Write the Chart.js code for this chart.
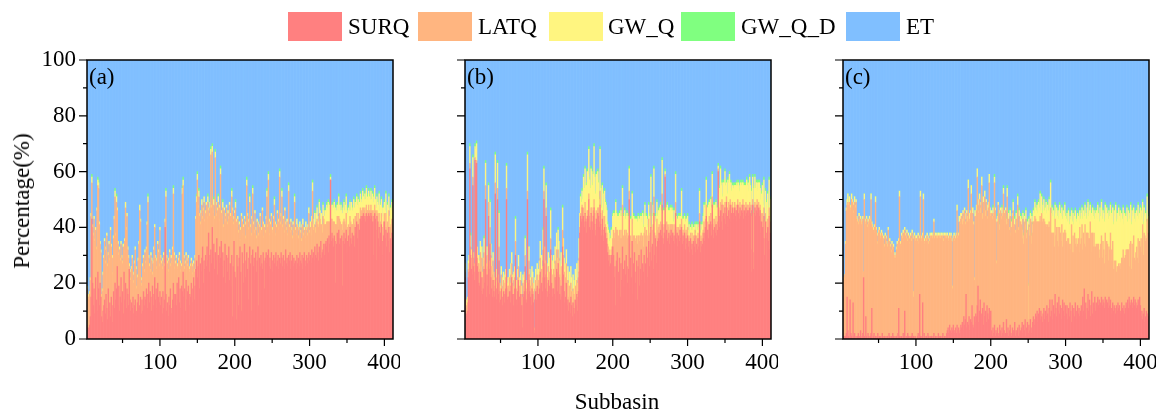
<!DOCTYPE html>
<html>
<head>
<meta charset="utf-8">
<script src="https://cdn.jsdelivr.net/npm/chart.js@4.4.1/dist/chart.umd.min.js"></script>
<style>
  body { margin: 0; background: #fff; width: 1161px; height: 416px; position: relative; overflow: hidden;
         font-family: "Liberation Serif", "Times New Roman", Times, "DejaVu Serif", serif; color: #000; }
  canvas.panel { position: absolute; top: 0; }
  .key { position: absolute; top: 12px; width: 54px; height: 29px; }
  .keytxt { position: absolute; top: 12px; height: 29px; line-height: 29px; font-size: 23px; white-space: nowrap; }
  .tag { position: absolute; top: 65px; font-size: 23px; line-height: 23px; }
  #ytitle { position: absolute; left: 22px; top: 201px; transform: translate(-50%, -50%) rotate(-90deg);
            font-size: 23px; white-space: nowrap; }
  #xtitle { position: absolute; left: 617px; top: 390px; transform: translateX(-50%); font-size: 23px; line-height: 23px; }
</style>
</head>
<body>
<canvas id="chartA" class="panel" style="left:0px" width="400" height="400"></canvas>
<canvas id="chartB" class="panel" style="left:378px" width="400" height="400"></canvas>
<canvas id="chartC" class="panel" style="left:756px" width="400" height="400"></canvas>

<div class="key" style="left:288px;background:#FF8080"></div><div class="keytxt" style="left:348px">SURQ</div>
<div class="key" style="left:418px;background:#FFB580"></div><div class="keytxt" style="left:478px">LATQ</div>
<div class="key" style="left:549px;background:#FFF580"></div><div class="keytxt" style="left:608px">GW_Q</div>
<div class="key" style="left:681px;background:#80FF80"></div><div class="keytxt" style="left:741px">GW_Q_D</div>
<div class="key" style="left:846px;background:#80BFFF"></div><div class="keytxt" style="left:906px">ET</div>

<div class="tag" style="left:89px">(a)</div>
<div class="tag" style="left:467px">(b)</div>
<div class="tag" style="left:845px">(c)</div>
<div id="ytitle">Percentage(%)</div>
<div id="xtitle">Subbasin</div>

<script>
// subbasins 1..411, percentages of each water balance term
const subbasins = Array.from({ length: 411 }, (_, i) => i + 1);
const xTickLabels = [100, 200, 300, 400];
const yTickLabels = [0, 20, 40, 60, 80, 100];
const seriesNames = ['SURQ', 'LATQ', 'GW_Q', 'GW_Q_D', 'ET'];
const seriesColors = ['#FF8080', '#FFB580', '#FFF580', '#80FF80', '#80BFFF'];

// ---- panel (a)
const surqA = [
4,5,4,3,4,5,8,15,43,20,12,18,9,22,14,10,24,18,12,20,
15,8,6,10,12,14,9,16,11,7,18,10,13,8,15,12,6,17,11,20,
14,18,26,12,19,10,15,22,13,17,9,24,14,20,11,18,16,12,25,14,
10,13,11,15,9,12,14,8,10,13,16,11,12,15,9,14,10,17,12,15,
14,18,11,16,20,13,17,15,10,19,12,16,22,14,18,11,20,15,13,17,
12,15,9,17,11,14,40,16,10,13,8,15,12,18,9,11,14,20,16,12,
16,12,20,14,22,13,18,11,19,17,24,15,18,10,21,14,17,19,12,16,
15,20,13,18,22,14,19,25,28,22,26,30,18,27,24,29,33,20,28,25,
30,26,33,28,38,24,30,32,27,40,29,34,25,31,28,36,23,30,27,33,
29,35,26,31,22,28,34,20,30,24,29,33,21,27,19,30,8,26,35,24,
22,7,30,26,12,29,33,24,10,31,27,20,34,22,28,31,25,14,29,33,
27,10,30,32,26,29,21,31,24,28,33,12,29,26,30,27,25,31,28,18,
29,31,27,30,32,26,29,25,31,28,24,30,27,29,31,26,28,30,25,29,
27,31,29,26,30,28,25,32,27,29,26,30,28,31,25,28,30,26,29,27,
28,25,30,27,29,26,31,28,27,30,25,29,31,28,26,30,27,29,31,28,
30,27,32,29,31,28,33,30,29,34,31,28,33,30,35,29,31,32,34,30,
34,35,33,36,31,37,34,57,35,38,36,33,37,35,20,34,38,36,39,34,
36,33,37,19,35,38,34,36,39,31,35,37,33,40,36,34,38,35,37,33,
40,38,42,36,41,27,39,43,44,42,44,45,43,44,42,45,44,43,45,44,
43,45,44,42,30,44,45,43,28,44,42,36,40,33,38,41,35,30,37,42,
36,39,33,38,35,40,31,36,34,38,36];
const latqA = [
13,12,14,12,10,11,13,29,13,20,25,25,26,17,18,36,31,36,29,14,
16,7,11,13,17,21,18,16,26,19,12,24,15,31,18,11,23,19,32,31,
23,31,20,22,11,22,13,12,16,10,24,7,21,27,28,26,16,17,1,10,
11,12,18,8,11,15,18,17,8,9,12,23,34,27,10,7,16,12,12,16,
13,14,30,33,9,13,7,15,18,4,15,16,18,15,7,17,14,16,13,22,
17,12,16,11,19,12,2,35,19,14,16,13,19,8,20,16,18,32,14,13,
11,17,6,11,6,17,9,13,7,35,31,14,7,17,9,14,9,10,13,8,
11,8,10,8,5,10,10,18,21,35,21,21,26,14,21,19,10,26,21,17,
15,22,10,21,8,20,17,34,20,27,16,14,18,34,20,8,23,19,15,14,
30,10,17,16,18,18,10,22,17,17,16,10,27,17,23,21,38,15,8,21,
25,35,10,17,26,12,2,15,34,11,10,20,9,14,13,24,19,25,13,16,
13,27,13,20,15,9,24,8,12,14,8,25,11,18,8,12,21,10,8,22,
9,12,24,10,25,16,8,16,13,11,14,13,21,12,6,14,17,12,14,29,
14,13,22,14,13,10,21,9,12,13,11,23,12,7,17,11,6,15,9,22,
11,12,11,13,7,13,9,10,8,10,16,8,8,8,14,9,10,11,14,10,
10,10,10,24,8,12,8,8,13,9,10,12,12,13,6,12,7,12,9,11,
7,6,9,6,11,5,8,0,8,5,6,9,5,6,21,7,6,4,5,9,
6,8,4,20,7,5,8,5,6,7,5,4,6,4,6,7,3,6,6,8,
4,6,3,5,4,12,4,4,2,3,3,2,3,3,3,3,2,3,3,2,
3,3,2,4,12,2,3,3,11,2,3,6,5,8,4,4,5,8,5,3,
4,6,7,4,5,6,7,4,7,5,6];
const gwqA = [
1,1,1,1,1,1,1,1,2,1,1,1,1,1,1,1,2,2,1,1,
1,1,1,1,1,1,1,1,1,1,1,1,1,1,1,1,1,1,1,2,
1,2,1,1,1,1,1,1,1,1,1,1,1,2,1,1,1,1,1,1,
1,1,1,1,1,1,1,1,1,1,1,1,2,1,1,1,1,1,1,1,
1,1,1,2,1,1,1,1,1,1,1,1,1,1,1,1,1,1,1,1,
1,1,1,1,1,1,1,2,1,1,1,1,1,1,1,1,1,2,1,1,
1,1,1,1,1,1,1,1,1,2,2,1,1,1,1,1,1,1,1,1,
1,1,1,1,1,1,1,1,2,2,1,2,1,1,1,2,1,1,2,1,
1,1,1,2,1,1,2,2,1,2,1,2,1,2,1,1,1,2,1,1,
2,1,1,2,1,1,1,1,1,1,1,1,1,1,1,2,1,1,1,1,
2,1,1,1,1,1,1,1,1,1,1,1,1,1,1,2,1,1,1,2,
1,1,1,2,1,1,1,1,1,1,1,1,1,1,1,1,1,1,1,1,
1,1,2,1,2,1,1,1,1,1,1,1,2,1,1,1,1,1,1,2,
1,1,2,1,1,1,1,1,1,1,1,2,1,1,1,1,1,1,1,2,
1,1,2,1,1,1,2,1,1,1,2,1,1,1,2,1,1,1,2,1,
2,3,2,3,2,3,4,2,3,4,3,2,4,3,2,4,3,4,3,3,
5,4,6,5,7,4,6,1,5,3,6,5,7,4,6,5,4,6,7,5,
4,7,5,6,5,6,4,7,6,8,5,6,7,5,4,8,5,6,7,6,
5,4,6,7,5,8,6,5,3,5,6,4,4,5,5,6,5,4,5,5,
4,5,4,6,7,5,6,4,8,5,4,6,7,5,6,5,7,6,5,4,
6,7,5,6,7,5,6,7,5,6,5];
const gwqdA = [
0,0,0,0,0,0,0,0,1,0,0,0,0,0,0,0,1,1,0,0,
0,0,0,0,0,0,0,0,0,0,0,0,0,0,0,0,0,0,0,1,
0,1,0,0,0,0,0,0,0,0,0,0,0,0,0,0,0,0,0,0,
0,0,0,0,0,0,0,0,0,0,0,0,0,0,0,0,0,0,0,0,
0,0,0,1,0,0,0,0,0,0,0,0,0,0,0,0,0,0,0,0,
0,0,0,0,0,0,0,1,0,0,0,0,0,0,0,0,0,1,0,0,
0,0,0,0,0,0,0,0,0,1,1,0,0,0,0,0,0,0,0,0,
0,0,0,0,0,0,0,0,1,1,0,1,0,0,0,0,0,0,0,0,
0,0,0,1,0,0,1,1,0,1,0,1,0,1,0,0,0,1,0,0,
1,0,0,1,0,0,0,0,0,0,0,0,0,0,0,1,0,0,0,0,
1,0,0,0,0,0,0,0,0,0,0,0,0,0,0,1,0,0,0,1,
0,0,0,1,0,0,0,0,0,0,0,0,0,0,0,0,0,0,0,0,
0,0,1,0,1,0,0,0,0,0,0,0,1,0,0,0,0,0,0,1,
0,0,1,0,0,0,0,0,0,0,0,1,0,0,0,0,0,0,0,1,
0,0,0,0,0,0,0,0,0,0,0,0,0,0,0,0,0,0,0,0,
0,0,0,1,0,0,1,0,0,1,0,0,1,1,0,0,0,1,0,0,
1,0,1,1,1,0,1,1,0,0,1,0,1,0,1,0,1,1,1,0,
0,1,1,0,1,1,0,1,1,1,0,1,0,1,1,0,0,1,1,0,
1,0,1,1,1,0,1,1,0,1,1,1,0,1,1,1,1,0,1,1,
0,1,1,1,0,1,1,0,0,1,1,0,1,0,1,1,0,0,1,1,
0,1,0,1,0,1,0,1,0,1,0];

// ---- panel (b)
const surqB = [
20,21,22,8,9,10,22,24,61,30,25,23,55,26,21,64,62,63,26,24,
20,19,24,17,22,16,18,25,20,50,15,23,19,44,16,34,22,18,15,21,
17,15,52,18,14,50,16,28,13,14,18,15,12,17,13,16,18,50,14,15,
15,17,13,19,22,16,12,16,18,30,14,12,17,21,15,13,16,12,4,16,
15,17,26,14,13,50,16,23,17,15,12,18,16,13,2,14,17,14,19,16,
16,18,24,14,20,17,28,50,22,18,44,17,15,21,19,16,32,20,15,18,
18,16,22,14,25,17,27,22,16,14,19,15,33,23,17,13,15,20,12,14,
10,13,9,15,12,8,13,11,9,14,12,16,10,17,24,38,44,42,47,43,
44,40,45,42,38,44,43,50,40,39,45,42,39,44,47,41,37,43,40,45,
44,40,48,41,37,43,39,35,40,38,34,36,31,28,30,26,27,30,29,33,
30,22,26,12,28,31,18,24,29,15,27,21,33,25,19,28,23,30,26,20,
25,50,18,29,22,35,16,27,31,20,24,28,14,26,30,19,25,32,21,27,
24,30,20,27,33,22,29,35,26,31,40,28,34,25,45,30,36,27,33,35,
36,38,35,39,37,48,36,34,38,58,37,39,35,36,38,34,37,39,36,38,
35,37,34,45,36,38,33,37,35,39,36,40,34,37,35,38,32,36,34,37,
33,35,31,36,32,34,30,35,33,37,31,34,32,36,33,42,31,35,33,34,
36,38,35,40,44,37,39,36,41,38,42,37,48,39,36,40,38,41,37,39,
60,44,40,46,42,48,39,45,43,47,41,49,44,40,46,43,48,42,45,47,
45,43,47,44,46,42,48,45,43,47,44,46,45,48,43,46,44,47,45,46,
46,44,47,45,24,46,48,25,45,47,44,46,48,45,47,44,46,38,42,40,
36,44,30,42,38,28,40,35,44,32,38];
const latqB = [
3,2,2,3,3,3,3,3,2,3,4,3,3,3,3,1,1,1,3,3,
7,6,7,7,7,6,8,6,8,5,10,7,7,5,9,6,8,8,8,7,
4,4,4,4,4,4,4,5,4,3,5,4,3,4,4,4,4,4,4,4,
4,5,4,4,5,4,4,5,4,5,4,4,5,5,4,4,5,4,8,4,
4,4,4,4,4,3,4,5,4,4,4,4,4,4,1,4,4,4,4,4,
5,5,5,5,5,5,4,3,5,5,3,5,5,5,5,6,4,5,5,5,
7,7,6,7,7,7,5,7,7,7,7,7,6,7,7,7,7,7,7,7,
5,6,5,5,5,5,5,5,5,5,5,5,5,5,5,2,1,1,1,1,
3,2,4,1,5,2,3,2,4,3,2,5,3,2,3,4,2,3,5,2,
3,2,5,4,2,3,5,2,4,3,6,2,3,5,2,4,3,2,4,3,
9,14,12,28,11,8,17,13,10,21,12,15,15,12,17,11,14,9,12,16,
12,3,16,8,13,8,18,10,6,15,12,9,20,11,7,16,12,6,14,10,
9,8,20,10,6,10,8,8,11,7,9,5,5,16,6,8,1,10,10,4,
4,3,5,3,4,4,5,6,3,1,4,3,6,4,3,5,4,2,5,3,
3,4,5,4,3,2,5,3,4,2,4,3,4,2,3,3,5,3,4,3,
3,2,4,2,3,4,5,2,3,2,4,3,4,2,3,3,4,2,3,4,
3,4,5,3,4,4,3,5,3,4,3,4,3,4,5,3,4,3,4,3,
1,3,4,3,4,2,5,3,4,2,4,2,3,5,3,4,2,4,3,2,
2,3,2,3,2,4,2,3,3,2,3,2,3,2,3,2,3,2,3,2,
2,3,2,3,8,2,2,6,3,2,3,2,2,3,2,3,2,4,3,5,
4,3,6,3,4,8,3,5,3,6,4];
const gwqB = [
3,3,3,2,2,2,3,3,6,4,3,3,7,2,3,4,5,6,4,3,
3,3,4,2,4,2,3,5,3,8,2,3,4,6,3,9,4,3,3,3,
3,3,10,3,3,9,3,12,3,2,3,3,3,3,4,3,3,8,2,3,
3,3,3,4,4,3,3,3,4,8,3,2,3,4,3,3,3,3,3,3,
3,3,6,3,3,13,3,5,4,3,3,4,4,3,1,4,4,3,4,3,
4,5,6,3,5,4,7,8,6,5,8,5,4,5,5,4,10,5,5,5,
5,4,5,4,6,5,7,6,5,5,5,5,8,6,5,5,5,5,5,5,
5,5,4,6,5,4,5,5,5,6,5,6,5,6,7,5,6,6,5,6,
11,12,12,12,12,14,13,16,13,12,14,13,13,13,19,13,13,13,13,13,
9,8,15,9,8,9,8,8,9,8,8,8,7,6,6,5,6,7,6,8,
6,8,7,9,6,5,8,7,6,8,7,8,6,7,8,7,6,5,7,8,
7,8,8,6,8,9,7,7,6,8,7,6,8,7,6,8,7,6,7,8,
7,6,8,7,5,8,6,5,7,6,9,7,5,7,10,6,5,7,6,5,
6,5,7,6,5,12,4,6,5,1,6,5,7,6,5,7,6,5,6,5,
4,5,4,10,5,3,5,4,5,3,4,10,5,4,5,3,5,4,5,4,
3,4,3,2,4,3,4,3,4,2,3,4,3,3,4,8,3,4,3,3,
5,6,7,5,9,6,5,7,5,6,5,6,8,5,6,5,6,5,6,5,
1,5,10,12,9,6,7,8,9,11,10,5,5,12,7,12,6,10,5,6,
7,9,6,8,7,10,5,8,7,6,9,7,8,6,9,7,8,6,9,7,
8,6,9,7,12,5,8,14,6,9,7,8,6,5,7,9,6,8,7,10,
8,10,6,8,7,6,9,7,10,6,8];
const gwqdB = [
0,0,0,0,0,0,0,0,1,1,0,0,1,0,0,1,1,1,0,0,
0,0,0,0,0,0,0,1,0,1,0,0,0,1,0,1,0,0,0,0,
0,0,1,0,0,1,0,1,0,0,0,0,0,0,0,0,0,1,0,0,
0,0,0,0,0,0,0,0,0,1,0,0,0,0,0,0,0,0,0,0,
0,0,1,0,0,1,0,0,0,0,0,0,0,0,0,0,0,0,0,0,
0,0,0,0,0,0,1,1,0,0,1,0,0,0,0,0,1,0,0,0,
0,0,0,0,0,0,1,0,0,0,0,0,1,0,0,0,0,0,0,0,
0,0,0,0,0,0,0,0,0,0,0,0,0,0,0,0,1,1,1,1,
1,1,1,1,1,1,1,1,1,1,1,1,1,1,1,1,1,1,1,1,
1,1,1,1,1,1,1,1,1,1,1,1,1,1,1,1,1,1,1,1,
1,1,1,1,1,1,1,1,1,1,1,1,1,1,1,1,1,1,1,1,
1,1,1,1,1,1,1,1,1,1,1,1,1,1,1,1,1,1,1,1,
1,1,1,1,1,1,1,1,1,1,1,1,1,1,1,1,1,1,1,1,
1,1,1,1,1,1,1,1,1,1,1,1,1,1,1,1,1,1,1,1,
1,1,1,1,1,1,1,1,1,1,1,1,1,1,1,1,1,1,1,1,
1,1,1,1,1,1,1,1,1,1,1,1,1,1,1,1,1,1,1,1,
1,1,1,1,1,1,1,1,1,1,1,1,1,1,1,1,1,1,1,1,
1,1,1,1,1,1,1,1,1,1,1,1,1,1,1,1,1,1,1,1,
1,1,1,1,1,1,1,1,1,1,1,1,1,1,1,1,1,1,1,1,
1,1,1,1,1,1,1,1,1,1,1,1,1,1,1,1,1,1,1,1,
1,1,1,1,1,1,1,1,1,1,1];

// ---- panel (c)
const surqC = [
1,2,0,1,0,1,2,15,3,1,0,14,2,1,0,13,1,2,0,1,
0,1,2,0,1,3,0,1,2,22,1,0,8,1,0,2,1,0,1,2,
11,0,1,2,0,1,0,1,2,0,1,0,1,0,2,1,0,1,0,1,
0,1,0,2,1,0,1,0,2,1,0,1,0,1,0,2,11,1,0,1,
1,0,2,1,10,0,1,0,2,1,0,1,0,1,2,0,1,0,1,0,
0,1,2,0,16,1,0,1,13,0,2,1,0,1,0,2,1,0,1,0,
1,0,1,2,0,1,0,1,0,2,1,0,1,0,1,2,0,1,0,1,
2,3,4,2,5,3,2,4,3,5,2,3,4,2,5,3,4,2,3,5,
4,6,3,8,5,7,16,4,6,5,8,3,7,6,12,5,4,8,6,9,
8,12,19,6,10,14,7,9,11,5,13,8,10,6,12,9,7,11,8,10,
3,1,4,2,5,1,3,2,4,1,2,5,3,1,4,2,6,3,1,2,
7,2,4,1,3,5,2,1,4,3,2,6,1,3,2,4,1,5,2,3,
4,6,2,5,3,7,1,4,6,2,5,3,7,4,2,6,8,5,7,9,
8,10,6,9,11,7,10,8,6,9,11,7,10,8,12,9,6,11,14,8,
10,14,7,12,9,16,11,8,13,10,15,9,12,7,11,14,10,13,8,12,
9,12,7,11,8,13,10,6,12,9,11,8,13,7,10,12,9,11,8,10,
12,8,15,10,18,9,13,7,11,16,10,14,8,12,17,9,13,11,15,10,
13,11,15,12,14,11,13,15,12,14,13,11,15,12,14,13,11,15,12,14,
11,9,13,10,12,11,9,12,10,13,11,12,10,9,13,11,10,12,9,11,
13,12,14,11,15,13,12,14,11,13,15,12,14,13,11,12,14,13,15,12,
8,10,7,9,11,6,8,10,9,7,8];
const latqC = [
28,26,22,20,23,33,44,33,46,47,49,32,45,49,49,35,44,47,47,48,
43,41,39,44,41,40,41,41,41,2,49,42,33,42,40,40,40,43,41,48,
30,40,38,36,40,48,39,36,32,38,38,37,35,38,35,34,36,32,37,35,
34,32,39,30,34,33,30,34,30,32,29,29,29,31,34,31,24,50,34,32,
36,36,36,34,29,37,35,38,33,36,36,33,37,34,36,36,14,37,34,36,
36,34,35,34,20,50,35,35,24,50,33,33,36,34,37,34,33,35,36,36,
36,36,36,40,36,36,36,36,36,35,35,37,35,37,35,35,35,36,36,36,
34,34,32,33,32,33,35,31,15,31,35,32,32,35,41,33,33,40,38,38,
40,35,42,34,41,34,27,41,36,49,34,40,38,46,31,40,37,13,38,35,
38,46,29,39,40,31,41,46,32,44,33,43,34,43,34,34,40,45,37,34,
42,42,41,42,51,45,39,25,38,47,43,34,43,42,41,42,46,42,41,44,
34,49,37,42,36,39,35,39,40,43,38,35,37,40,39,44,38,39,40,39,
37,30,41,29,39,32,42,32,33,5,36,34,36,30,40,32,34,37,37,34,
34,32,36,33,31,37,32,37,36,34,32,35,31,33,28,32,34,31,26,39,
28,24,31,26,24,27,26,32,22,30,18,31,26,28,30,19,28,25,31,26,
26,22,29,25,26,19,24,35,19,28,20,30,21,29,23,22,27,20,32,24,
24,33,17,28,16,32,20,31,27,22,26,22,34,19,21,29,20,27,18,23,
21,22,19,22,15,21,21,22,17,21,19,16,23,18,21,21,17,18,20,24,
21,19,22,15,16,14,19,12,16,13,16,14,17,16,16,18,22,16,20,19,
19,20,18,21,11,21,23,11,23,16,22,17,14,18,22,17,22,14,20,21,
28,21,34,21,27,31,27,26,34,31,30];
const gwqC = [
1,1,0,1,0,1,1,2,3,1,2,1,1,2,1,1,1,2,1,1,
1,1,1,1,1,1,1,1,1,0,2,1,1,1,1,1,1,1,1,2,
1,1,1,1,1,2,1,1,1,1,1,1,1,1,1,1,1,1,1,1,
1,1,1,1,1,1,1,1,1,1,1,1,1,1,1,1,1,2,1,1,
1,1,1,1,1,1,1,1,1,1,1,1,1,1,1,1,2,1,1,1,
1,1,1,1,1,2,1,1,1,2,1,1,1,1,1,1,1,1,1,1,
1,1,1,1,1,1,1,1,1,1,1,1,1,1,1,1,1,1,1,1,
1,1,1,1,1,1,1,1,1,1,1,1,1,1,2,1,1,2,1,2,
1,2,1,2,1,1,2,1,2,3,1,2,1,3,1,2,1,1,2,1,
2,3,2,1,2,2,1,3,2,2,1,2,2,1,2,1,2,3,2,1,
1,1,2,1,2,1,1,1,2,1,1,2,1,1,2,1,2,1,1,1,
2,3,1,2,1,2,1,2,1,3,1,2,1,2,1,3,1,2,1,2,
2,3,2,3,2,2,3,2,3,12,2,3,2,3,2,3,4,3,5,4,
4,6,3,7,5,8,4,6,3,5,7,4,6,8,5,7,6,8,7,9,
7,9,6,8,10,5,8,7,9,6,10,8,7,9,6,10,8,7,9,6,
8,11,6,10,7,12,9,5,11,8,10,6,12,7,9,11,8,10,6,9,
9,6,11,8,10,7,12,5,9,11,8,10,6,12,7,9,11,8,10,12,
12,10,14,11,13,15,10,12,14,11,13,15,10,14,12,11,15,13,12,10,
13,15,12,16,18,19,20,18,19,17,20,18,19,17,16,14,15,13,16,14,
12,15,10,14,17,11,13,16,12,15,10,14,17,11,13,15,12,16,10,14,
10,12,8,11,9,7,10,6,8,5,6];
const gwqdC = [
0,0,0,0,0,0,0,0,0,0,0,0,0,0,0,0,0,0,0,0,
0,0,0,0,0,0,0,0,0,0,0,0,0,0,0,0,0,0,0,0,
0,0,0,0,0,0,0,0,0,0,0,0,0,0,0,0,0,0,0,0,
0,0,0,0,0,0,0,0,0,0,0,0,0,0,0,0,0,0,0,0,
0,0,0,0,0,0,0,0,0,0,0,0,0,0,0,0,0,0,0,0,
0,0,0,0,0,0,0,0,0,0,0,0,0,0,0,0,0,0,0,0,
0,0,0,0,0,0,0,0,0,0,0,0,0,0,0,0,0,0,0,0,
0,0,0,0,0,0,0,0,0,0,0,0,0,0,0,0,0,0,0,0,
0,0,0,0,0,0,0,0,0,0,0,0,0,0,0,0,0,0,0,0,
0,0,0,0,0,0,0,0,0,0,0,0,0,0,0,0,0,0,0,0,
0,0,1,0,1,0,0,0,1,0,0,1,0,0,1,0,1,0,0,0,
1,1,0,1,0,1,0,1,0,1,0,1,0,1,0,1,0,1,0,1,
1,1,1,1,1,1,1,1,1,1,1,1,1,1,1,1,1,1,1,1,
1,1,1,1,1,1,1,1,1,1,1,1,1,1,1,1,1,1,1,1,
1,1,1,1,1,1,1,1,1,1,1,1,1,1,1,1,1,1,1,1,
1,1,1,1,1,1,1,1,1,1,1,1,1,1,1,1,1,1,1,1,
1,1,1,1,1,1,1,1,1,1,1,1,1,1,1,1,1,1,1,1,
1,1,1,1,1,1,1,1,1,1,1,1,1,1,1,1,1,1,1,1,
1,1,1,1,1,1,1,1,1,1,1,1,1,1,1,1,1,1,1,1,
1,1,1,1,1,1,1,1,1,1,1,1,1,1,1,1,1,1,1,1,
1,1,1,1,1,1,1,1,1,1,1];

const FONT = '"Liberation Serif", "Times New Roman", Times, "DejaVu Serif", serif';
Chart.defaults.font.family = FONT;
Chart.defaults.font.size = 23;
Chart.defaults.color = '#000';

// ET closes the balance to 100 %
function remainder(s, l, g, d) {
  return s.map((v, i) => 100 - v - (l[i] || 0) - (g[i] || 0) - (d[i] || 0));
}

// frame around the plot area, major/minor tick marks and the x tick labels
const frameTicks = {
  id: 'frameTicks',
  afterDraw(chart) {
    const { ctx, chartArea: a, scales: { x, y } } = chart;
    ctx.save();
    ctx.strokeStyle = '#000';
    ctx.lineWidth = 1.2;
    ctx.beginPath();
    for (let v = 0; v <= 100; v += 10) {
      const py = y.getPixelForValue(v);
      const len = v % 20 === 0 ? 8 : 4;
      ctx.moveTo(a.left, py);
      ctx.lineTo(a.left - len, py);
    }
    for (let v = 50; v <= 400; v += 50) {
      const px = x.getPixelForValue(v);
      const len = v % 100 === 0 ? 7 : 4;
      ctx.moveTo(px, a.bottom);
      ctx.lineTo(px, a.bottom + len);
    }
    ctx.stroke();
    ctx.lineWidth = 1.5;
    ctx.strokeRect(a.left, a.top, a.right - a.left, a.bottom - a.top);

    ctx.fillStyle = '#000';
    ctx.font = '23px ' + FONT;
    ctx.textAlign = 'center';
    ctx.textBaseline = 'top';
    xTickLabels.forEach(v => {
      ctx.fillText(String(v), x.getPixelForValue(v), a.bottom + 12);
    });
    ctx.restore();
  }
};

function makePanel(id, surq, latq, gwq, gwqd, showY) {
  const parts = [surq, latq, gwq, gwqd, remainder(surq, latq, gwq, gwqd)];
  return new Chart(document.getElementById(id), {
    type: 'bar',
    data: {
      labels: subbasins,
      datasets: parts.map((vals, k) => ({
        label: seriesNames[k],
        data: vals,
        backgroundColor: seriesColors[k],
        borderWidth: 0,
        barPercentage: 1,
        categoryPercentage: 1,
        clip: 0
      }))
    },
    options: {
      responsive: false,
      animation: false,
      layout: { padding: { top: 60, right: 7, left: 0, bottom: 0 } },
      scales: {
        x: {
          type: 'linear',
          stacked: true,
          min: 2.5,
          max: 411.5,
          offset: false,
          grid: { display: false, drawTicks: false, offset: false },
          border: { display: false },
          ticks: { display: false },
          afterFit: s => { s.height = 61; }
        },
        y: {
          stacked: true,
          min: 0,
          max: 100,
          grid: { display: false, drawTicks: false },
          border: { display: false },
          ticks: {
            display: showY,
            stepSize: 20,
            padding: 11,
            callback: v => yTickLabels.includes(v) ? String(v) : ''
          },
          afterFit: s => { s.width = 87; }
        }
      },
      plugins: { legend: { display: false }, tooltip: { enabled: false } }
    },
    plugins: [frameTicks]
  });
}

makePanel('chartA', surqA, latqA, gwqA, gwqdA, true);
makePanel('chartB', surqB, latqB, gwqB, gwqdB, false);
makePanel('chartC', surqC, latqC, gwqC, gwqdC, false);
</script>
</body>
</html>
